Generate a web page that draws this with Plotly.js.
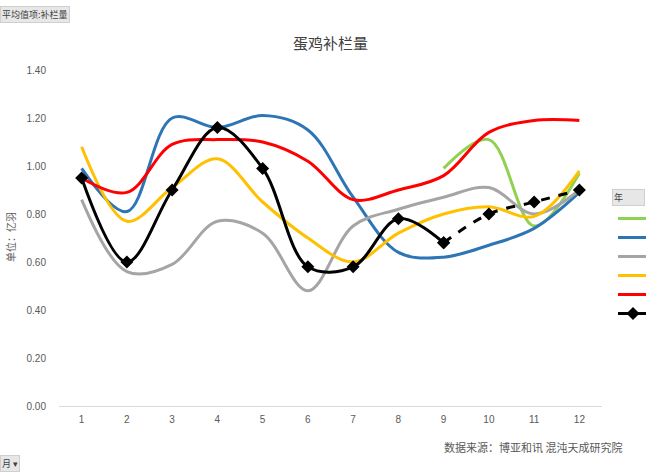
<!DOCTYPE html>
<html>
<head>
<meta charset="utf-8">
<script src="https://cdn.plot.ly/plotly-3.0.1.min.js"></script>
<style>
html,body{margin:0;padding:0;background:#fff;}
#chart{width:646px;height:473px;}
</style>
</head>
<body>
<div id="chart"></div>
<script>
const months = [1,2,3,4,5,6,7,8,9,10,11,12];
const greenMonths = [9,10,11,12];
const greenVals = [0.99,1.11,0.75,0.97];
const blueVals = [0.99,0.81,1.20,1.16,1.21,1.15,0.87,0.64,0.62,0.67,0.74,0.89];
const grayVals = [0.86,0.56,0.59,0.77,0.72,0.48,0.75,0.82,0.87,0.91,0.80,0.90];
const yellowVals = [1.08,0.77,0.91,1.03,0.85,0.70,0.60,0.72,0.80,0.83,0.79,0.98];
const redVals = [0.95,0.89,1.09,1.11,1.10,1.02,0.86,0.90,0.96,1.14,1.19,1.19];
const blackMonths = [1,2,3,4,5,6,7,8,9];
const blackVals = [0.95,0.60,0.90,1.16,0.99,0.58,0.58,0.78,0.68];
const forecastMonths = [9,10,11,12];
const forecastVals = [0.68,0.80,0.85,0.90];
const yTicks = [0,0.2,0.4,0.6,0.8,1.0,1.2,1.4];

function lineTrace(x, y, color) {
  return {type:'scatter', mode:'lines', x:x, y:y, name:' ',
          line:{shape:'spline', smoothing:1, width:3, color:color}};
}
const traces = [
  lineTrace(greenMonths, greenVals, '#92d050'),
  lineTrace(months, blueVals, '#2e75b6'),
  lineTrace(months, grayVals, '#a5a5a5'),
  lineTrace(months, yellowVals, '#ffc000'),
  lineTrace(months, redVals, '#ff0000'),
  {type:'scatter', mode:'lines+markers', x:blackMonths, y:blackVals, name:' ',
   line:{shape:'spline', smoothing:1, width:3, color:'#000000'},
   marker:{symbol:'diamond', size:10, color:'#000000'}},
  {type:'scatter', mode:'lines+markers', x:forecastMonths, y:forecastVals, name:' ', showlegend:false,
   line:{shape:'spline', smoothing:1, width:3, color:'#000000', dash:'dash'},
   marker:{symbol:'diamond', size:10, color:'#000000'}}
];

const L = 59, R = 602, T = 70, B = 406;
const pw = R - L, ph = B - T;
const px = v => (v - L) / pw;
const py = v => (B - v) / ph;

const layout = {
  width:646, height:473,
  margin:{l:L, r:646-R, t:T, b:473-B, autoexpand:false},
  paper_bgcolor:'#ffffff', plot_bgcolor:'#ffffff',
  font:{family:'Liberation Sans, Arial, sans-serif', size:11, color:'#595959'},
  title:{text:'蛋鸡补栏量', x:0.5, xref:'paper', y:1-44/473, yanchor:'middle',
         font:{family:'Noto Sans CJK SC, sans-serif', size:15, color:'#404040'}},
  xaxis:{range:[0.5,12.5], tickvals:months, ticktext:months.map(String), showgrid:false, zeroline:false,
         showline:true, linecolor:'#d9d9d9', linewidth:1, ticks:'', ticklabelstandoff:4,
         tickfont:{size:10, color:'#595959'}, fixedrange:true},
  yaxis:{range:[0,1.4], tickvals:yTicks, tickformat:'.2f', showgrid:false, zeroline:false,
         showline:false, ticks:'', ticklabelstandoff:12, tickfont:{size:10, color:'#595959'}, fixedrange:true},
  showlegend:true,
  legend:{x:px(613), y:py(204), xanchor:'left', yanchor:'top', bgcolor:'rgba(0,0,0,0)',
          font:{size:10}, tracegroupgap:0, itemwidth:30},
  annotations:[
    {text:'单位：亿羽', xref:'paper', yref:'paper', x:px(10), y:py(237), textangle:-90, showarrow:false,
     font:{family:'Noto Sans CJK SC, sans-serif', size:10, color:'#595959'}, xanchor:'center', yanchor:'middle'},
    {text:'数据来源：博亚和讯 混沌天成研究院', xref:'paper', yref:'paper', x:px(624), y:py(447), showarrow:false,
     xanchor:'right', yanchor:'middle', font:{family:'Noto Sans CJK SC, sans-serif', size:11, color:'#595959'}},
    {text:'平均值项:补栏量', xref:'paper', yref:'paper', x:px(0), y:py(15), showarrow:false,
     xanchor:'left', yanchor:'middle', bgcolor:'#e7e7e7', bordercolor:'#cfcfcf', borderwidth:1, borderpad:1,
     font:{family:'Noto Sans CJK SC, sans-serif', size:9, color:'#404040'}},
    {text:'月 ▾', xref:'paper', yref:'paper', x:px(0), y:py(463), showarrow:false,
     xanchor:'left', yanchor:'middle', bgcolor:'#e7e7e7', bordercolor:'#cfcfcf', borderwidth:1, borderpad:1,
     font:{family:'Noto Sans CJK SC, sans-serif', size:9, color:'#404040'}},
    {text:'年          ', xref:'paper', yref:'paper', x:px(612), y:py(197), showarrow:false,
     xanchor:'left', yanchor:'middle', bgcolor:'#e7e7e7', bordercolor:'#cfcfcf', borderwidth:1, borderpad:1,
     font:{family:'Noto Sans CJK SC, sans-serif', size:9, color:'#404040'}}
  ]
};

Plotly.newPlot('chart', traces, layout, {displayModeBar:false, staticPlot:true});
</script>
</body>
</html>
